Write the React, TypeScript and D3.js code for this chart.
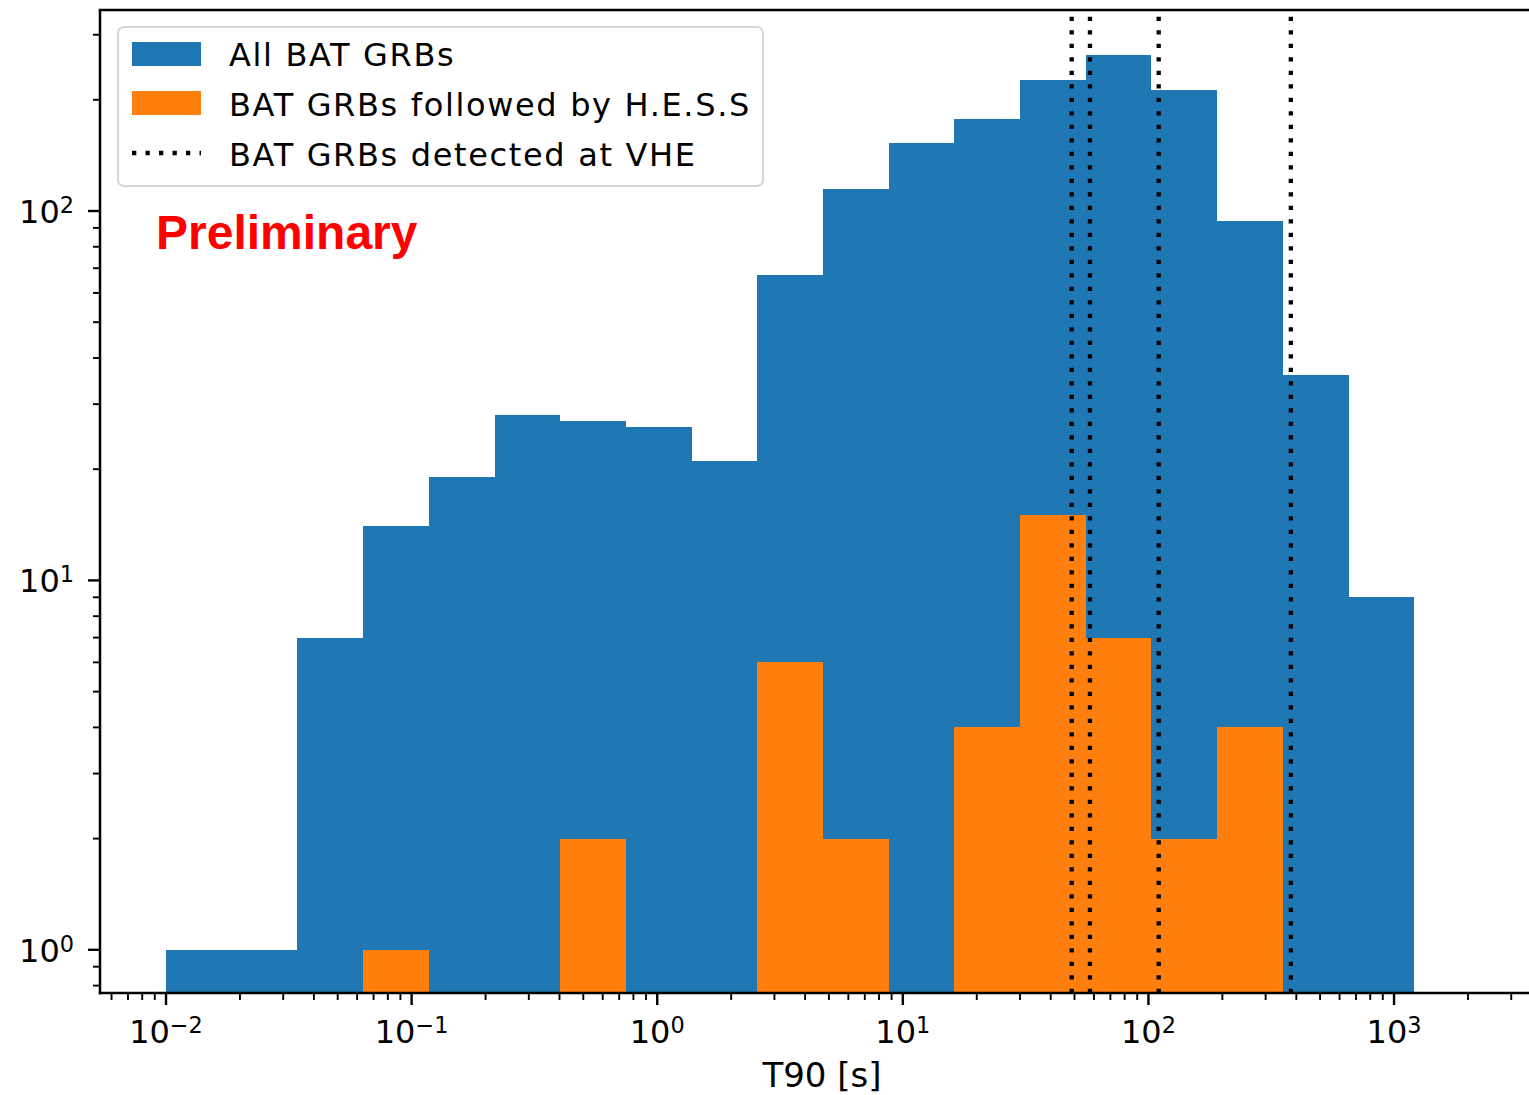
import * as React from 'react'
import * as d3 from 'd3'

// histogram bin edges (log spaced), T90 in seconds
const binEdges = [
  0.01, 0.01851, 0.03428, 0.06346, 0.1175, 0.2176, 0.4027, 0.7456, 1.38, 2.556,
  4.732, 8.762, 16.22, 30.03, 55.59, 102.9, 190.5, 352.7, 653.1, 1209,
];
const allBatCounts = [1, 1, 7, 14, 19, 28, 27, 26, 21, 67, 115, 153, 177, 226, 264, 213, 94, 36, 9];
const hessCounts = [0, 0, 0, 1, 0, 0, 2, 0, 0, 6, 2, 0, 4, 15, 7, 2, 4, 0, 0];
const vheT90 = [48.7, 57.8, 110.1, 380];

const xTickExps = [-2, -1, 0, 1, 2, 3];
const yTickExps = [0, 1, 2];
const legendLabels = ['All BAT GRBs', 'BAT GRBs followed by H.E.S.S', 'BAT GRBs detected at VHE'];

const W = 1529;
const H = 1095;
const plot = { left: 100, right: 1540, top: 10, bottom: 993 };
const BLUE = '#1f77b4';
const ORANGE = '#ff7f0e';
const FONT = '"DejaVu Sans", sans-serif';

const minorTicks = (lo: number, hi: number) => {
  const out: number[] = [];
  for (let k = -4; k <= 4; k++) {
    for (let m = 2; m <= 9; m++) {
      const v = m * Math.pow(10, k);
      if (v >= lo && v <= hi) out.push(v);
    }
  }
  return out;
};

const App: React.FC = () => {
  const x = d3.scaleLog().domain([0.005385, 3929]).range([plot.left, plot.right]);
  const y = d3.scaleLog().domain([0.764, 350]).range([plot.bottom, plot.top]);

  const bars = (counts: number[], color: string) =>
    counts.map((c, i) =>
      c > 0 ? (
        <rect
          key={i}
          x={x(binEdges[i])}
          y={y(c)}
          width={x(binEdges[i + 1]) - x(binEdges[i])}
          height={plot.bottom - y(c)}
          fill={color}
          shapeRendering="crispEdges"
        />
      ) : null
    );

  const [x0, x1] = x.domain();
  const [y0, y1] = y.domain();

  return (
    <svg width={W} height={H} style={{ position: 'absolute', left: 0, top: 0, background: '#fff' }}>
      <defs>
        <clipPath id="plotClip">
          <rect x={plot.left} y={plot.top} width={plot.right - plot.left} height={plot.bottom - plot.top} />
        </clipPath>
      </defs>

      <g clipPath="url(#plotClip)">
        {bars(allBatCounts, BLUE)}
        {bars(hessCounts, ORANGE)}
        {vheT90.map((v, i) => (
          <line
            key={i}
            x1={x(v)}
            x2={x(v)}
            y1={plot.bottom}
            y2={plot.top}
            stroke="#000"
            strokeWidth={4.3}
            strokeDasharray="4.3 9.2"
          />
        ))}
      </g>

      {/* spines */}
      <g stroke="#000" strokeWidth={2.5} fill="none">
        <line x1={plot.left} x2={plot.left} y1={plot.top} y2={plot.bottom + 1.25} />
        <line x1={plot.left - 1.25} x2={plot.right} y1={plot.bottom} y2={plot.bottom} />
        <line x1={plot.left - 1.25} x2={plot.right} y1={plot.top} y2={plot.top} />
      </g>

      {/* ticks */}
      <g stroke="#000">
        {xTickExps.map(e => (
          <line key={e} x1={x(10 ** e)} x2={x(10 ** e)} y1={plot.bottom} y2={plot.bottom + 12} strokeWidth={2.4} />
        ))}
        {minorTicks(x0, x1).map((v, i) => (
          <line key={i} x1={x(v)} x2={x(v)} y1={plot.bottom} y2={plot.bottom + 7} strokeWidth={1.9} />
        ))}
        {yTickExps.map(e => (
          <line key={e} x1={plot.left - 12} x2={plot.left} y1={y(10 ** e)} y2={y(10 ** e)} strokeWidth={2.4} />
        ))}
        {minorTicks(y0, y1).map((v, i) => (
          <line key={i} x1={plot.left - 7} x2={plot.left} y1={y(v)} y2={y(v)} strokeWidth={1.9} />
        ))}
      </g>

      {/* tick labels */}
      <g fontFamily={FONT} fill="#000">
        {xTickExps.map(e => (
          <text key={e} x={x(10 ** e)} y={1043} fontSize={32} textAnchor="middle">
            10
            <tspan dy={-10} fontSize={22.4}>{e < 0 ? `\u2212${-e}` : `${e}`}</tspan>
          </text>
        ))}
        {yTickExps.map(e => (
          <text key={e} x={74} y={y(10 ** e) + 12} fontSize={32} textAnchor="end">
            10
            <tspan dy={-10} fontSize={22.4}>{`${e}`}</tspan>
          </text>
        ))}
        <text x={822} y={1087} fontSize={34} textAnchor="middle">T90 [s]</text>
      </g>

      {/* legend */}
      <g>
        <rect x={118} y={27} width={645} height={159} rx={6} fill="#fff" fillOpacity={0.8} stroke="#d6d6d6" strokeWidth={2} />
        <rect x={132} y={42} width={69} height={24} fill={BLUE} />
        <rect x={132} y={91} width={69} height={24} fill={ORANGE} />
        <line x1={132} x2={201} y1={153} y2={153} stroke="#000" strokeWidth={4.3} strokeDasharray="4.3 9.2" />
        {legendLabels.map((t, i) => (
          <text key={t} x={229} y={65.5 + i * 50} fontSize={32} letterSpacing={1.65} fontFamily={FONT} fill="#000">
            {t}
          </text>
        ))}
      </g>

      <text x={156} y={249} fontSize={48} fontWeight="bold" fontFamily='"Liberation Sans", Arial, sans-serif' fill="#ff0000">
        Preliminary
      </text>
    </svg>
  );
};

export default App;
